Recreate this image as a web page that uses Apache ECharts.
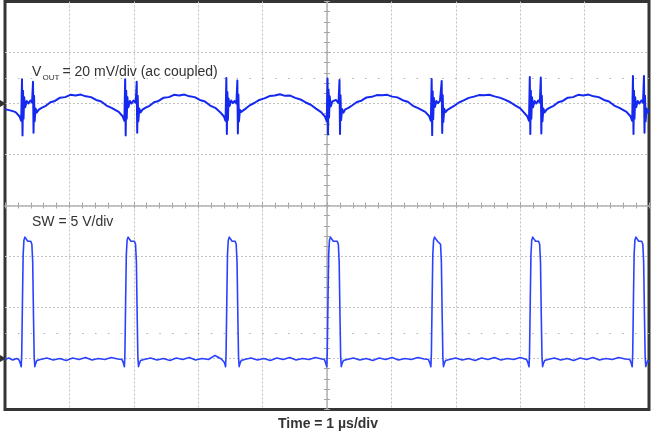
<!DOCTYPE html>
<html><head><meta charset="utf-8">
<script src="https://cdn.jsdelivr.net/npm/echarts@6/dist/echarts.min.js"></script>
<style>html,body{margin:0;padding:0;background:#fff}#c{width:651px;height:434px}</style>
</head><body><div id="c"></div>
<script>
// time in µs from left edge of screen, VOUT in mV (ac coupled), SW in V
const timeRange = [0, 10];
const voutRange = [-120, 40];   // 20 mV/div
const swRange = [-5, 35];       // 5 V/div

const voutLabel = { main: 'V', sub: 'OUT', rest: '= 20 mV/div (ac coupled)' };
const swLabel = 'SW = 5 V/div';
const timeLabel = 'Time = 1 µs/div';

const voutPoints = [
[0,-2.2],[0.06,-2.6],[0.12,-3.0],[0.164,-3.4],[0.224,-5.0],[0.252,-6.8],
[0.264,9.5],[0.272,-12.5],[0.280,5],[0.288,-6],[0.298,2.5],[0.314,-1.5],[0.339,1],[0.364,0],[0.394,1.2],[0.420,0.3],
[0.435,8.5],[0.443,-11.5],[0.451,3],[0.460,-7],[0.475,-2],[0.495,-3.5],
[0.525,-2.4],[0.575,-1.6],[0.635,-0.9],[0.705,0.5],[0.775,1.0],[0.855,2.3],[0.935,2.5],[1.015,3.4],[1.095,3.1],[1.175,3.5],[1.255,2.8],[1.335,2.5],[1.415,1.4],[1.495,0.8],[1.575,-0.8],[1.655,-1.7],[1.766,-3.3],[1.826,-5.0],[1.854,-6.8],
[1.866,9.5],[1.874,-12.5],[1.882,5],[1.890,-6],[1.900,2.5],[1.916,-1.5],[1.941,1],[1.966,0],[1.996,1.2],[2.030,0.3],
[2.045,8.5],[2.053,-11.5],[2.061,3],[2.070,-7],[2.085,-2],[2.105,-3.5],
[2.135,-2.4],[2.185,-1.6],[2.245,-0.9],[2.315,0.5],[2.385,1.0],[2.465,2.3],[2.545,2.5],[2.625,3.4],[2.705,3.1],[2.785,3.5],[2.865,2.8],[2.945,2.5],[3.025,1.4],[3.105,0.8],[3.185,-0.8],[3.265,-1.7],[3.337,-3.3],[3.397,-5.0],[3.425,-6.8],
[3.437,10],[3.445,-12],[3.453,4.5],[3.461,-6.5],[3.471,2],[3.487,-1],[3.512,1.2],[3.537,0.2],[3.567,1.0],[3.593,0],
[3.608,9],[3.616,-11.8],[3.624,3.5],[3.633,-7],[3.648,-2.5],[3.668,-3.3],
[3.698,-2.6],[3.748,-1.8],[3.808,-0.6],[3.878,0.3],[3.948,1.4],[4.028,2.0],[4.108,2.9],[4.188,3.1],[4.268,3.6],[4.348,3.0],[4.428,3.1],[4.508,2.2],[4.588,1.6],[4.668,0.4],[4.748,-0.5],[4.828,-2.0],[4.908,-3.4],[4.968,-5.1],[4.996,-7],
[5.008,9.8],[5.016,-12.2],[5.024,5.5],[5.032,-5.5],[5.042,2.8],[5.058,-1.2],[5.083,0.8],[5.108,0.2],[5.138,1.4],[5.179,0.2],
[5.194,9.2],[5.202,-12],[5.210,3.2],[5.219,-6.5],[5.234,-2.2],[5.254,-3.6],
[5.284,-2.3],[5.334,-1.7],[5.394,-0.7],[5.464,0.6],[5.534,1.1],[5.614,2.4],[5.694,2.6],[5.774,3.3],[5.854,3.2],[5.934,3.4],[6.014,2.7],[6.094,2.4],[6.174,1.3],[6.254,0.7],[6.334,-0.9],[6.414,-1.8],[6.525,-3.3],[6.585,-4.9],[6.613,-6.8],
[6.625,9.6],[6.633,-12.4],[6.641,4.8],[6.649,-6.2],[6.659,2.2],[6.675,-1.4],[6.700,1.0],[6.725,0.1],[6.755,1.1],[6.766,0.4],
[6.781,8.8],[6.789,-11.6],[6.797,3.2],[6.806,-7.2],[6.821,-2.1],[6.841,-3.4],
[6.871,-2.5],[6.921,-1.7],[6.981,-0.8],[7.051,0.4],[7.121,1.2],[7.201,2.2],[7.281,2.7],[7.361,3.3],[7.441,3.2],[7.521,3.4],[7.601,2.8],[7.681,2.3],[7.761,1.5],[7.841,0.6],[7.921,-0.7],[8.001,-1.9],[8.049,-3.3],[8.109,-5.0],[8.137,-6.8],
[8.149,10.4],[8.157,-12],[8.165,5],[8.173,-6],[8.183,2.5],[8.199,-1.5],[8.224,1],[8.249,0],[8.279,1.2],[8.305,0.3],
[8.320,10.2],[8.328,-11.8],[8.336,3],[8.345,-7],[8.360,-2],[8.380,-3.5],
[8.410,-2.4],[8.460,-1.6],[8.520,-0.9],[8.590,0.5],[8.660,1.0],[8.740,2.3],[8.820,2.5],[8.900,3.4],[8.980,3.1],[9.060,3.5],[9.140,2.8],[9.220,2.5],[9.300,1.4],[9.380,0.8],[9.460,-0.8],[9.540,-1.7],[9.651,-3.3],[9.711,-5.0],[9.739,-6.8],
[9.751,10.8],[9.759,-12],[9.767,5],[9.775,-6],[9.785,2.5],[9.801,-1.5],[9.826,1],[9.851,0],[9.881,1.2],[9.907,0.3],
[9.922,10.8],[9.930,-11.5],[9.938,3],[9.947,-7],[9.962,-2],[9.982,-3.5],[10.0,-2.6]
];

const swPoints = [
[0,-0.1],[0.06,0.05],[0.12,-0.15],[0.18,0.0],[0.214,-0.1],[0.234,-0.4],[0.252,-0.8],[0.260,0.5],[0.272,6],[0.282,10.2],[0.294,11.6],[0.309,11.9],[0.334,11.8],[0.354,11.5],[0.400,11.5],[0.417,11.2],[0.430,9.5],[0.443,4],[0.453,0.2],[0.463,-0.8],[0.475,-0.5],[0.495,-0.2],
[0.55,-0.1],[0.65,0.05],[0.75,-0.15],[0.85,0.0],[0.95,-0.2],[1.05,0.05],[1.15,-0.1],[1.25,0.1],[1.35,-0.15],[1.45,0.0],[1.55,-0.1],[1.65,0.1],[1.75,-0.05],[1.816,-0.1],
[1.836,-0.4],[1.854,-0.8],[1.862,0.5],[1.874,6],[1.884,10.2],[1.896,11.6],[1.911,11.9],[1.936,11.8],[1.956,11.5],[2.010,11.5],[2.027,11.2],[2.040,9.5],[2.053,4],[2.063,0.2],[2.073,-0.8],[2.085,-0.5],[2.105,-0.2],
[2.16,-0.1],[2.26,0.05],[2.36,-0.15],[2.46,0.0],[2.56,-0.2],[2.66,0.05],[2.76,-0.1],[2.86,0.1],[2.96,-0.15],[3.06,0.0],[3.16,-0.1],[3.26,0.3],[3.36,-0.05],[3.387,-0.1],
[3.407,-0.4],[3.425,-0.8],[3.433,0.5],[3.445,6],[3.455,10.2],[3.467,11.6],[3.482,11.9],[3.507,11.8],[3.527,11.5],[3.573,11.5],[3.590,11.2],[3.603,9.5],[3.616,4],[3.626,0.2],[3.636,-0.8],[3.648,-0.5],[3.668,-0.2],
[3.72,-0.1],[3.82,0.05],[3.92,-0.15],[4.02,0.0],[4.12,-0.2],[4.22,0.05],[4.32,-0.1],[4.42,0.1],[4.52,-0.15],[4.62,0.0],[4.72,-0.1],[4.82,0.1],[4.92,-0.05],[4.958,-0.1],
[4.978,-0.4],[4.996,-0.8],[5.004,0.5],[5.016,6],[5.026,10.2],[5.038,11.6],[5.053,11.9],[5.078,11.8],[5.098,11.5],[5.159,11.5],[5.176,11.2],[5.189,9.5],[5.202,4],[5.212,0.2],[5.222,-0.8],[5.234,-0.5],[5.254,-0.2],
[5.31,-0.1],[5.41,0.05],[5.51,-0.15],[5.61,0.0],[5.71,-0.2],[5.81,0.05],[5.91,-0.1],[6.01,0.1],[6.11,-0.15],[6.21,0.0],[6.31,-0.1],[6.41,0.1],[6.51,-0.05],[6.575,-0.1],
[6.595,-0.4],[6.613,-0.8],[6.621,0.5],[6.633,6],[6.643,10.2],[6.655,11.6],[6.670,11.9],[6.695,11.8],[6.715,11.5],[6.746,11.5],[6.763,11.2],[6.776,9.5],[6.789,4],[6.799,0.2],[6.809,-0.8],[6.821,-0.5],[6.841,-0.2],
[6.90,-0.1],[7.00,0.05],[7.10,-0.15],[7.20,0.0],[7.30,-0.2],[7.40,0.05],[7.50,-0.1],[7.60,0.1],[7.70,-0.15],[7.80,0.0],[7.90,-0.1],[8.00,0.1],[8.099,-0.1],
[8.119,-0.4],[8.137,-0.8],[8.145,0.5],[8.157,6],[8.167,10.2],[8.179,11.6],[8.194,11.9],[8.219,11.8],[8.239,11.5],[8.285,11.5],[8.302,11.2],[8.315,9.5],[8.328,4],[8.338,0.2],[8.348,-0.8],[8.360,-0.5],[8.380,-0.2],
[8.43,-0.1],[8.53,0.05],[8.63,-0.15],[8.73,0.0],[8.83,-0.2],[8.93,0.05],[9.03,-0.1],[9.13,0.1],[9.23,-0.15],[9.33,0.0],[9.43,-0.1],[9.53,0.1],[9.63,-0.05],[9.701,-0.1],
[9.721,-0.4],[9.739,-0.8],[9.747,0.5],[9.759,6],[9.769,10.2],[9.781,11.6],[9.796,11.9],[9.821,11.8],[9.841,11.5],[9.887,11.5],[9.904,11.2],[9.917,9.5],[9.930,4],[9.940,0.2],[9.950,-0.8],[9.962,-0.5],[9.982,-0.2],[10.0,-0.3]
];

const chart = echarts.init(document.getElementById('c'), null, { renderer: 'canvas' });
const GRID_DOT = { color: '#c2c2c2', type: [2, 2], width: 1 };
const CROSS = '#b3b3b3';
const TICK = '#a6a6a6';
const FONT = '"Liberation Sans", Arial, sans-serif';
const hide = { axisLabel: { show: false }, axisTick: { show: false }, splitLine: { show: false } };

const option = {
  animation: false,
  backgroundColor: '#fff',
  grid: { left: 5, top: 1.5, width: 644, height: 408, show: true, borderColor: '#353535', borderWidth: 3, backgroundColor: 'transparent' },
  xAxis: [
    { type: 'value', min: timeRange[0], max: timeRange[1], interval: 1, axisLine: { show: false, onZero: false },
      axisTick: { show: false }, axisLabel: { show: false },
      splitLine: { show: true, showMinLine: false, showMaxLine: false, lineStyle: GRID_DOT } },
    { type: 'value', min: 0, max: 10, interval: 1, position: 'bottom',
      axisLine: { show: true, onZero: true, onZeroAxisIndex: 2, lineStyle: { color: CROSS, width: 1.5 } },
      axisTick: { show: true, inside: false, length: 3, lineStyle: { color: TICK } },
      minorTick: { show: true, splitNumber: 5, length: 3, lineStyle: { color: TICK } },
      axisLabel: { show: false }, splitLine: { show: false } },
    { type: 'value', min: 0, max: 10, interval: 1, position: 'bottom',
      axisLine: { show: false, onZero: true, onZeroAxisIndex: 2 },
      axisTick: { show: true, inside: true, length: 3, lineStyle: { color: TICK } },
      minorTick: { show: true, splitNumber: 5, length: 3, lineStyle: { color: TICK } },
      axisLabel: { show: false }, splitLine: { show: false } },
    { type: 'value', min: -5, max: 5, show: false, axisLine: { onZero: false } }
  ],
  yAxis: [
    { type: 'value', min: voutRange[0], max: voutRange[1], interval: 20, axisLine: { show: false, onZero: false },
      axisTick: { show: false }, axisLabel: { show: false },
      splitLine: { show: true, showMinLine: false, showMaxLine: false, lineStyle: GRID_DOT } },
    { type: 'value', min: swRange[0], max: swRange[1], interval: 5, axisLine: { show: false, onZero: false }, ...hide },
    { type: 'value', min: -4, max: 4, show: false, axisLine: { onZero: false } },
    { type: 'value', min: -4, max: 4, interval: 1, position: 'left',
      axisLine: { show: true, onZero: true, onZeroAxisIndex: 3, lineStyle: { color: CROSS, width: 1.5 } },
      axisTick: { show: true, inside: false, length: 3, lineStyle: { color: TICK } },
      minorTick: { show: true, splitNumber: 5, length: 3, lineStyle: { color: TICK } },
      axisLabel: { show: false }, splitLine: { show: false } },
    { type: 'value', min: -4, max: 4, interval: 1, position: 'left',
      axisLine: { show: false, onZero: true, onZeroAxisIndex: 3 },
      axisTick: { show: true, inside: true, length: 3, lineStyle: { color: TICK } },
      minorTick: { show: true, splitNumber: 5, length: 3, lineStyle: { color: TICK } },
      axisLabel: { show: false }, splitLine: { show: false } }
  ],
  series: [
    { name: 'VOUT', type: 'line', xAxisIndex: 0, yAxisIndex: 0, data: voutPoints, showSymbol: false, symbol: 'none',
      lineStyle: { color: '#1428f0', width: 2, join: 'round' }, z: 5,
      markLine: { silent: true, symbol: 'none', label: { show: false }, animation: false,
        lineStyle: { color: '#b0b0b0', type: [1.5, 11.36], width: 1.2 }, data: [{ yAxis: 10 }] } },
    { name: 'SW', type: 'line', xAxisIndex: 0, yAxisIndex: 1, data: swPoints, showSymbol: false, symbol: 'none',
      lineStyle: { color: '#2a42ff', width: 1.6, join: 'round' }, z: 5,
      markLine: { silent: true, symbol: 'none', label: { show: false }, animation: false,
        lineStyle: { color: '#b0b0b0', type: [1.5, 11.36], width: 1.2 }, data: [{ yAxis: 2.5 }] } }
  ]
};
chart.setOption(option);

const y0v = chart.convertToPixel({ yAxisIndex: 0 }, 0);
const y0s = chart.convertToPixel({ yAxisIndex: 1 }, 0);
const txt = (x, y, text, size, weight, align) => ({
  type: 'text', x: x, y: y, z: 10,
  style: { text: text, font: (weight || 'normal') + ' ' + size + 'px ' + FONT, fill: '#333', align: align || 'left', verticalAlign: 'middle' }
});
const marker = (y) => ({ type: 'polygon', z: 10, shape: { points: [[0, y - 3.5], [6, y], [0, y + 3.5]] }, style: { fill: '#333' } });
chart.setOption({
  graphic: [
    txt(32, 72.5, voutLabel.main, 14),
    txt(42.5, 77.5, voutLabel.sub, 8),
    txt(62.5, 72.5, voutLabel.rest, 14),
    txt(32, 222, swLabel, 14),
    txt(328, 424, timeLabel, 14, 'bold', 'center'),
    marker(y0v),
    marker(y0s)
  ]
});
</script>
</body></html>
